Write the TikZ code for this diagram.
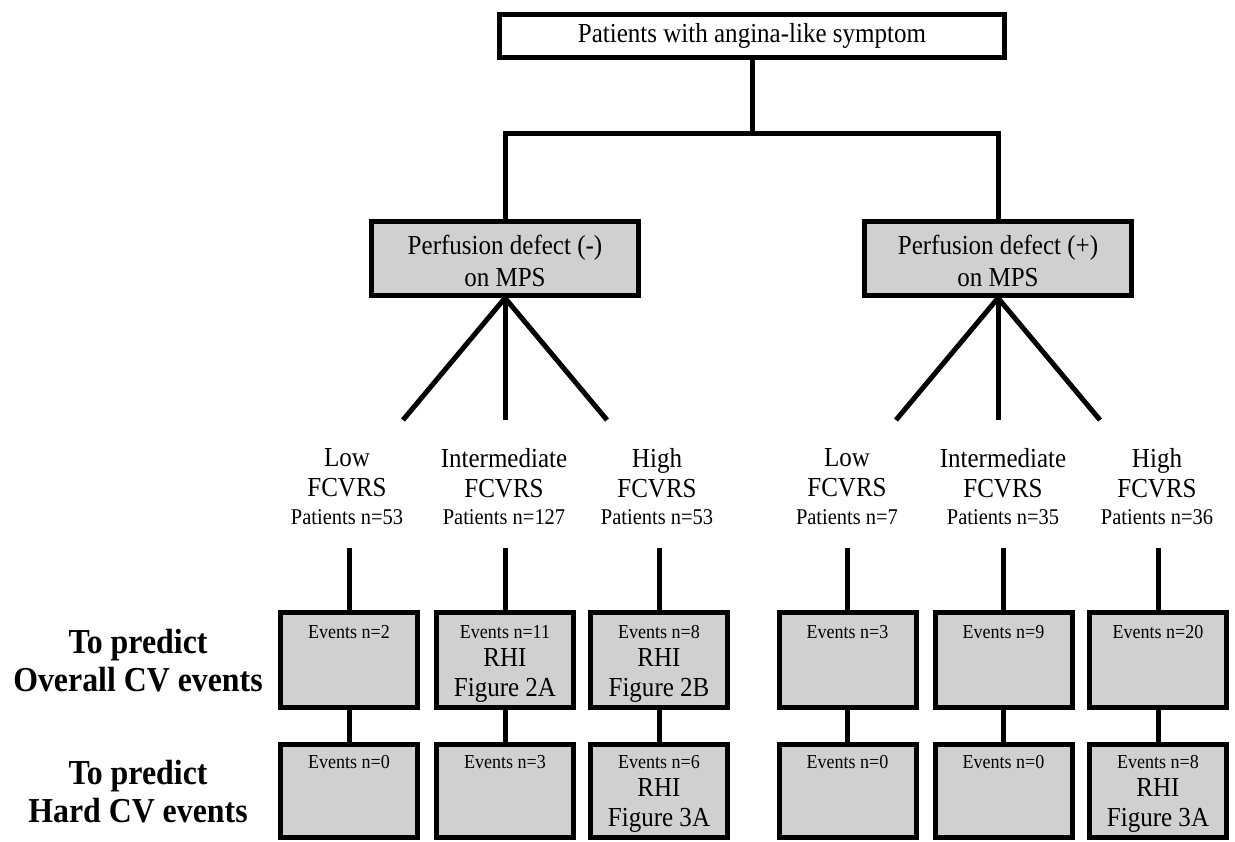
\documentclass[tikz,border=0pt]{standalone}
\usepackage{fontspec}
\setmainfont{Liberation Serif}[FakeStretch=0.91]
\definecolor{boxgray}{RGB}{208,208,208}
\begin{document}
\begin{tikzpicture}[x=1pt,y=-1pt,
  conn/.style={line width=5pt},
  topbox/.style={draw,line width=5pt,minimum width=505pt,minimum height=43pt,inner sep=0pt,font=\fontsize{27.5}{30}\selectfont},
  grpbox/.style={draw,line width=5pt,fill=boxgray,minimum width=267pt,minimum height=74pt,inner sep=0pt},
  evbox/.style={draw,line width=5pt,fill=boxgray,minimum width=137pt,inner sep=0pt},
  big/.style={inner sep=0pt,align=center,font=\fontsize{27.5}{30}\selectfont},
  small/.style={inner sep=0pt,font=\fontsize{22.5}{24}\selectfont},
  evt/.style={inner sep=0pt,font=\fontsize{19.8}{22}\selectfont},
  side/.style={inner sep=0pt,align=center,font=\bfseries\fontsize{35}{38}\selectfont}
]
\useasboundingbox (0,0) rectangle (1235,842);
% top
\node[topbox] (top) at (752,36) {Patients with angina-like symptom};
\node[grpbox] (pL) at (505,258.5) {};
\node[grpbox] (pR) at (998,258.5) {};
\node[big,font=\fontsize{27.5}{32}\selectfont] (pLt) at (505,261) {Perfusion defect (-)\\on MPS};
\node[big,font=\fontsize{27.5}{32}\selectfont] (pRt) at (998,261) {Perfusion defect (+)\\on MPS};
\coordinate (j) at (752,134);
\draw[conn] (top.south) -- (j);
\draw[conn] (pL.north) |- (j) -| (pR.north);
% fans
\coordinate (fL1) at (403,420); \coordinate (fL2) at (505,420); \coordinate (fL3) at (607,420);
\coordinate (fR1) at (896,420); \coordinate (fR2) at (998,420); \coordinate (fR3) at (1100,420);
\draw[conn] (fL1) -- (pL.south) -- (fL3);
\draw[conn] (pL.south) -- (fL2);
\draw[conn] (fR1) -- (pR.south) -- (fR3);
\draw[conn] (pR.south) -- (fR2);
% labels
\node[big] (l1) at (347,473) {Low\\FCVRS};
\node[small] (n1) at (347,517) {Patients n=53};
\node[big] (l2) at (504,473) {Intermediate\\FCVRS};
\node[small] (n2) at (504,517) {Patients n=127};
\node[big] (l3) at (657,473) {High\\FCVRS};
\node[small] (n3) at (657,517) {Patients n=53};
\node[big] (l4) at (847,473) {Low\\FCVRS};
\node[small] (n4) at (847,517) {Patients n=7};
\node[big] (l5) at (1003,473) {Intermediate\\FCVRS};
\node[small] (n5) at (1003,517) {Patients n=35};
\node[big] (l6) at (1157,473) {High\\FCVRS};
\node[small] (n6) at (1157,517) {Patients n=36};
% event boxes row 1
\node[evbox,minimum height=95pt] (a1) at (349,660) {};
\node[evbox,minimum height=95pt] (a2) at (505,660) {};
\node[evbox,minimum height=95pt] (a3) at (659,660) {};
\node[evbox,minimum height=95pt] (a4) at (847.5,660) {};
\node[evbox,minimum height=95pt] (a5) at (1003.5,660) {};
\node[evbox,minimum height=95pt] (a6) at (1158,660) {};
% row 2
\node[evbox,minimum height=93pt] (b1) at (349,791) {};
\node[evbox,minimum height=93pt] (b2) at (505,791) {};
\node[evbox,minimum height=93pt] (b3) at (659,791) {};
\node[evbox,minimum height=93pt] (b4) at (847.5,791) {};
\node[evbox,minimum height=93pt] (b5) at (1003.5,791) {};
\node[evbox,minimum height=93pt] (b6) at (1158,791) {};
% stems
\foreach \i/\x in {1/349,2/505,3/659,4/847.5,5/1003.5,6/1158}{
  \coordinate (s\i) at (\x,548);
  \draw[conn] (s\i) -- (a\i.north);
  \draw[conn] (a\i.south) -- (b\i.north);
}
% texts row 1
\node[evt] (ta1) at (349,632) {Events n=2};
\node[evt] (ta2) at (505,632) {Events n=11};
\node[big] (ra2) at (505,675) {RHI\\Figure 2A};
\node[evt] (ta3) at (659,632) {Events n=8};
\node[big] (ra3) at (659,675) {RHI\\Figure 2B};
\node[evt] (ta4) at (847.5,632) {Events n=3};
\node[evt] (ta5) at (1003.5,632) {Events n=9};
\node[evt] (ta6) at (1158,632) {Events n=20};
% texts row 2
\node[evt] (tb1) at (349,762) {Events n=0};
\node[evt] (tb2) at (505,762) {Events n=3};
\node[evt] (tb3) at (659,762) {Events n=6};
\node[big] (rb3) at (659,805) {RHI\\Figure 3A};
\node[evt] (tb4) at (847.5,762) {Events n=0};
\node[evt] (tb5) at (1003.5,762) {Events n=0};
\node[evt] (tb6) at (1158,762) {Events n=8};
\node[big] (rb6) at (1158,805) {RHI\\Figure 3A};
% side labels
\node[side] (sd1) at (138,661) {To predict\\Overall CV events};
\node[side] (sd2) at (138,792) {To predict\\Hard CV events};
\end{tikzpicture}
\end{document}
